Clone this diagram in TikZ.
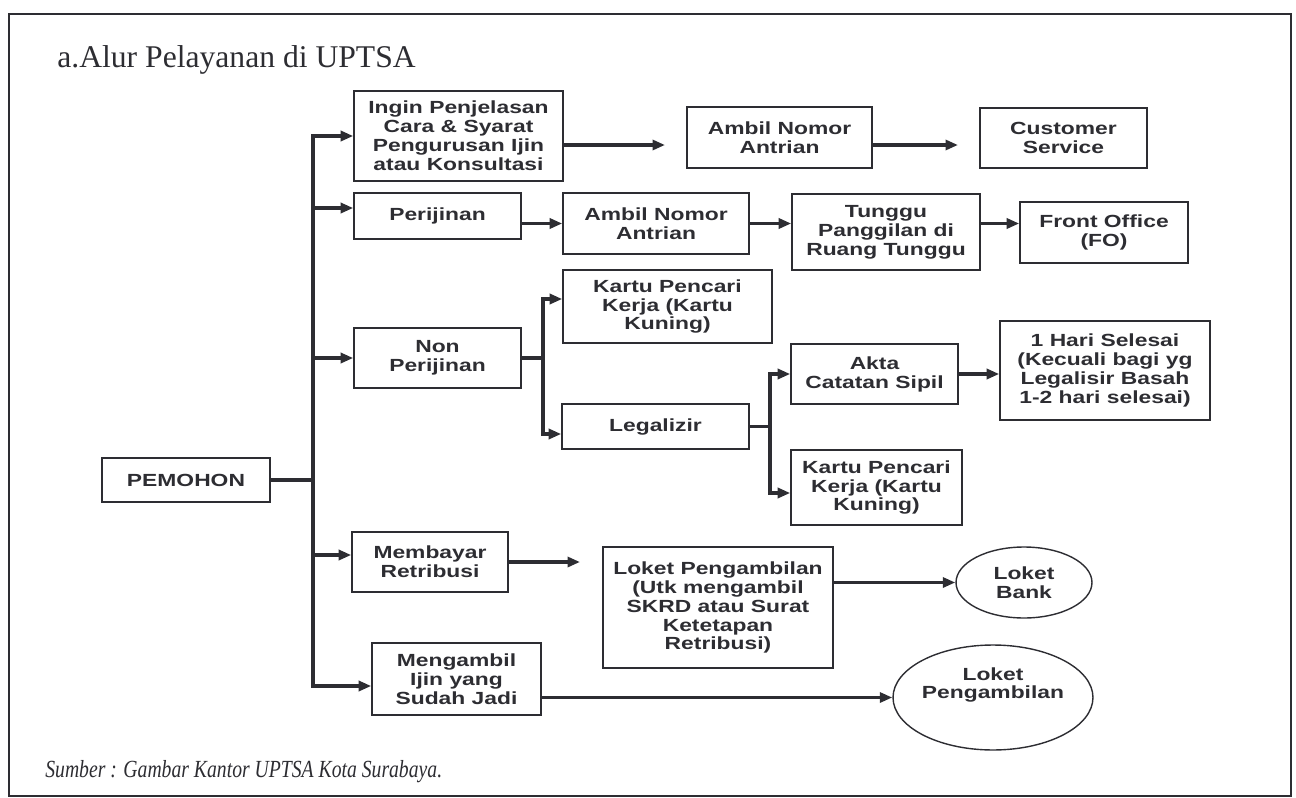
\documentclass[tikz,border=0pt]{standalone}
\usepackage{fontspec}
\setmainfont{Liberation Serif}
\newfontfamily\boxfont{Liberation Sans}[FakeStretch=1.3]
\usetikzlibrary{arrows.meta}
\usetikzlibrary{shapes.geometric}
\definecolor{inkgray}{RGB}{45,45,50}

\begin{document}
\begin{tikzpicture}[x=0.02cm, y=-0.02cm,
  box/.style={draw=inkgray, line width=0.9pt, align=center, inner sep=0pt, text=inkgray,
    font=\boxfont\bfseries\fontsize{10}{10.8}\selectfont},
  oval/.style={box, ellipse, line width=0.8pt},
  txt/.style={align=center, inner sep=0pt, text=inkgray, font=\boxfont\bfseries\fontsize{10}{10.8}\selectfont},
  line/.style={draw=inkgray, line width=2pt},
  arr/.style={line, -{Triangle[length=0.25cm, width=0.2cm]}}]
\useasboundingbox (0,0) rectangle (1296,798);
%frame
\draw[inkgray, line width=1.6pt] (9,14) rectangle (1291,796);
\node[anchor=base west, inner sep=0pt, text=inkgray, font=\fontsize{18}{20}\selectfont] (title) at (57,67) {a.Alur Pelayanan di UPTSA};
\node[anchor=base west, inner sep=0pt, text=inkgray, font=\itshape\fontsize{14}{16}\selectfont\addfontfeature{FakeStretch=0.8}] (source) at (45,777) {Sumber : Gambar Kantor UPTSA Kota Surabaya.};

%left column
\node[box, minimum width=3.36cm, minimum height=0.88cm] (pemohon) at (186,480) {PEMOHON};
\node[box, minimum width=4.18cm, minimum height=1.8cm] (ingin) at (458.5,136) {Ingin Penjelasan\\Cara \& Syarat\\Pengurusan Ijin\\atau Konsultasi};
\node[box, minimum width=3.34cm, minimum height=0.92cm] (perijinan) at (437.5,216) {Perijinan};
\node[box, minimum width=3.34cm, minimum height=1.2cm] (nonperijinan) at (437.5,358) {Non\\Perijinan};
\node[box, minimum width=3.12cm, minimum height=1.2cm] (membayar) at (430,562) {Membayar\\Retribusi};
\node[box, minimum width=3.38cm, minimum height=1.44cm] (mengambil) at (456.5,679) {Mengambil\\Ijin yang\\Sudah Jadi};

%upper rows
\node[box, minimum width=3.7cm, minimum height=1.22cm] (antrianA) at (779.5,137.5) {Ambil Nomor\\Antrian};
\node[box, minimum width=3.34cm, minimum height=1.2cm] (custserv) at (1063.5,138) {Customer\\Service};
\node[box, minimum width=3.72cm, minimum height=1.22cm] (antrianB) at (656,223.5) {Ambil Nomor\\Antrian};
\node[box, minimum width=3.76cm, minimum height=1.52cm] (tunggu) at (886,232) {Tunggu\\Panggilan di\\Ruang Tunggu};
\node[box, minimum width=3.36cm, minimum height=1.22cm] (frontoffice) at (1104,232.5) {Front Office\\(FO)};

%non perijinan
\node[box, minimum width=4.18cm, minimum height=1.46cm] (kartuA) at (667.5,306.5) {Kartu Pencari\\Kerja (Kartu\\Kuning)};
\node[box, minimum width=3.74cm, minimum height=0.9cm] (legalizir) at (655.5,426.5) {Legalizir};
\node[box, minimum width=3.34cm, minimum height=1.2cm] (akta) at (874.5,374) {Akta\\Catatan Sipil};
\node[box, minimum width=3.42cm, minimum height=1.5cm] (kartuB) at (876.5,487.5) {Kartu Pencari\\Kerja (Kartu\\Kuning)};
\node[box, minimum width=4.2cm, minimum height=1.98cm] (selesai) at (1105,370.5) {1 Hari Selesai\\(Kecuali bagi yg\\Legalisir Basah\\1-2 hari selesai)};

%lower rows
\node[box, minimum width=4.6cm, minimum height=2.42cm] (loketambil) at (718,607.5) {Loket Pengambilan\\(Utk mengambil\\SKRD atau Surat\\Ketetapan\\Retribusi)};
\node[oval, minimum width=2.72cm, minimum height=1.42cm] (bank) at (1024,582.5) {Loket\\Bank};
\node[oval, minimum width=4cm, minimum height=2.1cm] (loketpengambilan) at (993,697.5) {};
\node[txt] (loketpengambilantext) at (993,685) {Loket\\Pengambilan};

%trunk
\coordinate (trunk) at (313,480);
\coordinate (inPer) at ([yshift=0.16cm]perijinan.west);
\coordinate (inBay) at ([yshift=0.14cm]membayar.west);
\coordinate (inAmbil) at ([yshift=-0.14cm]mengambil.west);
\draw[line] (pemohon.east) -- (pemohon.east -| trunk);
\draw[line, line cap=rect] (trunk |- ingin.west) -- (trunk |- inAmbil);
\foreach \t in {ingin.west, inPer, nonperijinan.west, inBay, inAmbil}
  \draw[arr] (trunk |- \t) -- (\t);

%first and second row
\coordinate (inginEnd) at (665,145);
\coordinate (antrianEnd) at (958,145);
\draw[arr] (ingin.east |- inginEnd) -- (inginEnd);
\draw[arr] (antrianA.east |- antrianEnd) -- (antrianEnd);
\draw[arr] (perijinan.east |- antrianB.west) -- (antrianB.west);
\draw[arr] (antrianB.east) -- (antrianB.east -| tunggu.west);
\draw[arr] (tunggu.east |- antrianB.east) -- (frontoffice.west |- antrianB.east);

%forks
\coordinate (forkA) at (543,358);
\coordinate (forkB) at (770,420);
\coordinate (inKartuA) at ([yshift=0.15cm]kartuA.west);
\coordinate (inLegal) at ([yshift=-0.15cm]legalizir.west);
\coordinate (inKartuB) at ([yshift=-0.11cm]kartuB.west);
\draw[line] (nonperijinan.east) -- (nonperijinan.east -| forkA);
\draw[line, line cap=rect] (forkA |- inKartuA) -- (forkA |- inLegal);
\draw[arr] (forkA |- inKartuA) -- (inKartuA);
\draw[arr] (forkA |- inLegal) -- (inLegal);
\draw[line] (legalizir.east) -- (legalizir.east -| forkB);
\draw[line, line cap=rect] (forkB |- akta.west) -- (forkB |- inKartuB);
\draw[arr] (forkB |- akta.west) -- (akta.west);
\draw[arr] (forkB |- inKartuB) -- (inKartuB);
\draw[arr] (akta.east) -- (akta.east -| selesai.west);

%payment and pick-up
\coordinate (bayarEnd) at (580,562);
\draw[arr] (membayar.east) -- (bayarEnd);
\draw[arr] (loketambil.east |- bank.west) -- (bank.west);
\draw[arr] (mengambil.east |- loketpengambilan.west) -- (loketpengambilan.west);
\end{tikzpicture}
\end{document}
